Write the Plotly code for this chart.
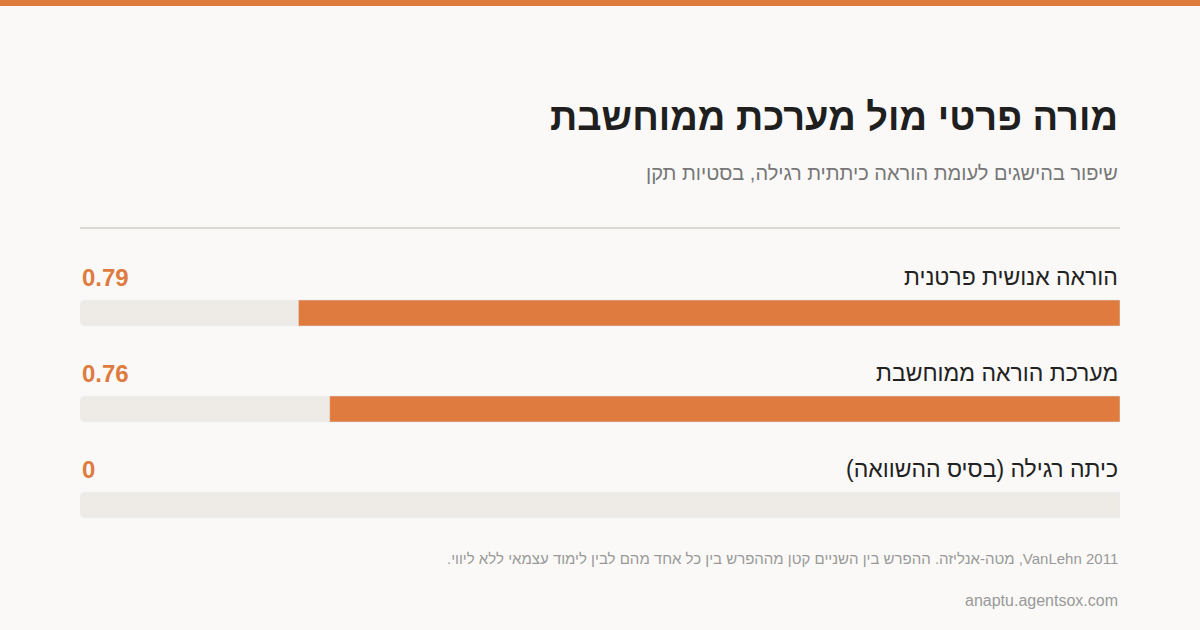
import plotly.graph_objects as go

labels = ["הוראה אנושית פרטנית", "מערכת הוראה ממוחשבת", "כיתה רגילה (בסיס ההשוואה)"]
values = [0.79, 0.76, 0]
value_text = ["0.79", "0.76", "0"]
scale_max = 1.0

title = "מורה פרטי מול מערכת ממוחשבת"
subtitle = "שיפור בהישגים לעומת הוראה כיתתית רגילה, בסטיות תקן"
footnote = "\u202bVanLehn 2011, מטה-אנליזה. ההפרש בין השניים קטן מההפרש בין כל אחד מהם לבין לימוד עצמאי ללא ליווי.\u202c"
source = "anaptu.agentsox.com"

W, H = 1200, 630
ORANGE = "#E07B40"
TRACK = "#EEEBE6"
FONT = "Liberation Sans, Arial, sans-serif"
bar_y = [313, 409, 505]
label_y = [277, 373, 469]

fig = go.Figure()
fig.add_trace(go.Bar(
    y=bar_y, x=[scale_max] * len(values), orientation="h", width=26,
    marker=dict(color=TRACK, cornerradius=5), hoverinfo="skip", showlegend=False))
fig.add_trace(go.Bar(
    y=bar_y, x=values, orientation="h", width=26,
    marker=dict(color=ORANGE, cornerradius=5), showlegend=False,
    hovertemplate="%{x}<extra></extra>"))

def px_x(p):
    return (p - 80) / 1040

def py(p):
    return 1 - p / H

ann = [
    dict(x=px_x(1120), y=py(117), text=f"<b>{title}</b>", font=dict(size=38, color="#1f1f1f")),
    dict(x=px_x(1120), y=py(173), text=subtitle, font=dict(size=20, color="#777")),
    dict(x=px_x(1120), y=py(558), text=footnote, font=dict(size=15, color="#999")),
    dict(x=px_x(1120), y=py(600), text=source, font=dict(size=16, color="#999")),
]
for lab, vt, yy in zip(labels, value_text, label_y):
    ann.append(dict(x=px_x(1120), y=py(yy), text=lab, font=dict(size=23, color="#222")))
    ann.append(dict(x=px_x(80), y=py(yy), text=f"<b>{vt}</b>", xanchor="left",
                    font=dict(size=24, color=ORANGE)))
for a in ann:
    a.setdefault("xanchor", "right")
    a.update(xref="paper", yref="paper", yanchor="middle", showarrow=False)
    a["font"]["family"] = FONT

fig.update_layout(
    width=W, height=H, margin=dict(l=80, r=80, t=0, b=0),
    paper_bgcolor="#FAF9F7", plot_bgcolor="rgba(0,0,0,0)",
    barmode="overlay", font=dict(family=FONT),
    xaxis=dict(range=[scale_max, 0], visible=False, fixedrange=True),
    yaxis=dict(range=[H, 0], visible=False, fixedrange=True),
    annotations=ann,
    shapes=[
        dict(type="rect", xref="paper", yref="paper", x0=px_x(0), x1=px_x(W),
             y0=py(6), y1=1, fillcolor=ORANGE, line_width=0),
        dict(type="line", xref="paper", yref="paper", x0=0, x1=1, y0=py(228), y1=py(228),
             line=dict(color="#DDDAD5", width=2)),
    ],
)
fig.write_html("out.html", config={"displayModeBar": False},
               post_script="document.body.style.margin='0';")
